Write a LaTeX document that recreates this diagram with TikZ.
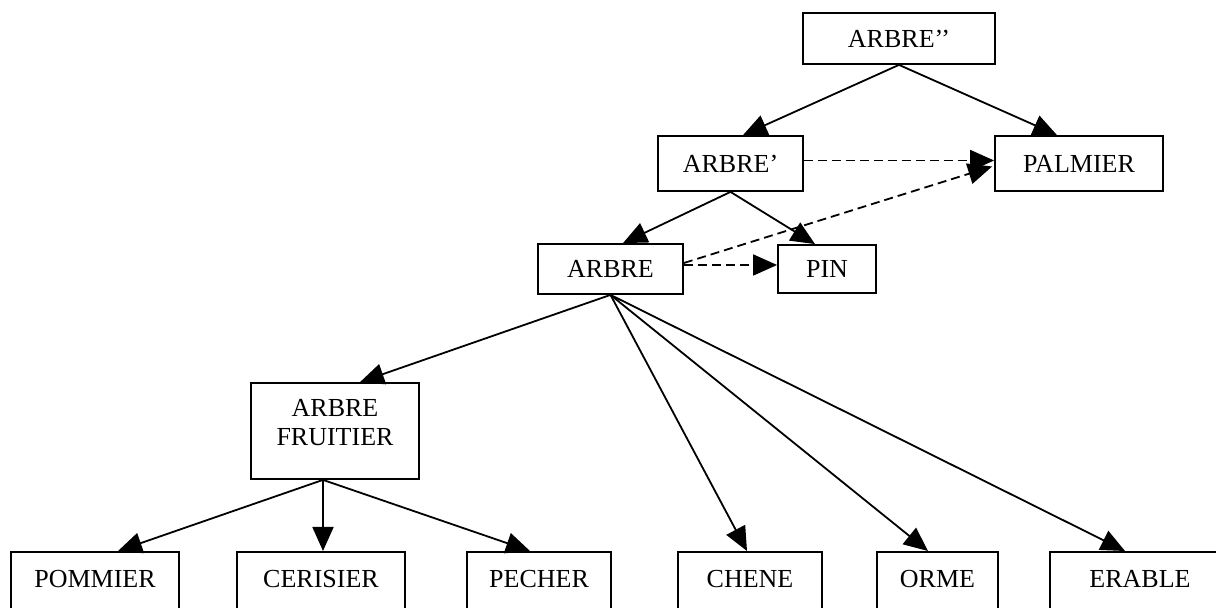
\documentclass[tikz,border=0pt]{standalone}
\usepackage{fontspec}
\setmainfont{Liberation Serif}
\usetikzlibrary{arrows.meta,calc}
\begin{document}
\begin{tikzpicture}[x=0.5pt,y=-0.5pt,
  box/.style={draw,line width=0.9pt,inner sep=0pt,font=\fontsize{13}{14.5}\selectfont,align=center},
  leaf/.style={box,anchor=north,text height=18pt,text depth=19pt},
  conn/.style={line width=0.9pt,-{Triangle[length=12pt,width=10.5pt]}},
  dconn/.style={conn,dash pattern=on 4.5pt off 2.5pt}]
\useasboundingbox (0,0) rectangle (1216,608);
\clip (0,0) rectangle (1216,608);
% upper nodes
\node[box,minimum width=96pt,minimum height=25.5pt] (a2) at (899,38.5) {ARBRE’’};
\node[box,minimum width=72.5pt,minimum height=27.5pt] (a1) at (730.5,163.5) {ARBRE’};
\node[box,minimum width=84pt,minimum height=27.5pt] (palm) at (1079,163.5) {PALMIER};
\node[box,minimum width=72.5pt,minimum height=25pt] (a0) at (610.5,269) {ARBRE};
\node[box,minimum width=49pt,minimum height=24pt] (pin) at (827,269) {PIN};
\node[box,minimum width=84pt,minimum height=48pt] (af) at (335,431)
  {\raisebox{0pt}[\height][\dimexpr\depth+5.5pt\relax]{\begin{tabular}{@{}c@{}}ARBRE\\FRUITIER\end{tabular}}};
% leaves
\node[leaf,minimum width=84pt] (pom) at (95,551) {POMMIER};
\node[leaf,minimum width=84pt] (cer) at (321,551) {CERISIER};
\node[leaf,minimum width=72pt] (pec) at (539,551) {PECHER};
\node[leaf,minimum width=72pt] (che) at (750,551) {CHENE};
\node[leaf,minimum width=60.5pt] (orm) at (937.5,551) {ORME};
\node[leaf,minimum width=90pt] (era) at (1140,551) {ERABLE};
\coordinate (afo) at ($(af.south)+(-12,0)$);
% solid connectors
\draw[conn] (a2.south) -- ($(a1.north)+(12.5,0)$);
\draw[conn] (a2.south) -- ($(palm.north)+(-22,0)$);
\draw[conn] (a1.south) -- ($(a0.north)+(12.5,0)$);
\draw[conn] (a1.south) -- ($(pin.north)+(-12,0)$);
\draw[conn] (a0.south) -- ($(af.north)+(25,0)$);
\draw[conn] (a0.south) -- ($(che.north)+(-3,0)$);
\draw[conn] (a0.south) -- ($(orm.north)+(-9.5,0)$);
\draw[conn] (a0.south) -- ($(era.north)+(-15,0)$);
\draw[conn] (afo) -- ($(pom.north)+(23,0)$);
\draw[conn] (afo) -- ($(cer.north)+(2,0)$);
\draw[conn] (afo) -- ($(pec.north)+(-9,0)$);
% dashed connectors
\draw[dconn] ($(a1.east)+(0,-3)$) -- ($(palm.west)+(0,-3)$);
\draw[dconn] ($(a0.east)+(0,-4)$) -- ($(pin.west)+(0,-4)$);
\draw[dconn] ($(a0.east)+(0,-6)$) -- ($(palm.west)+(-2,3)$);
\end{tikzpicture}
\end{document}
